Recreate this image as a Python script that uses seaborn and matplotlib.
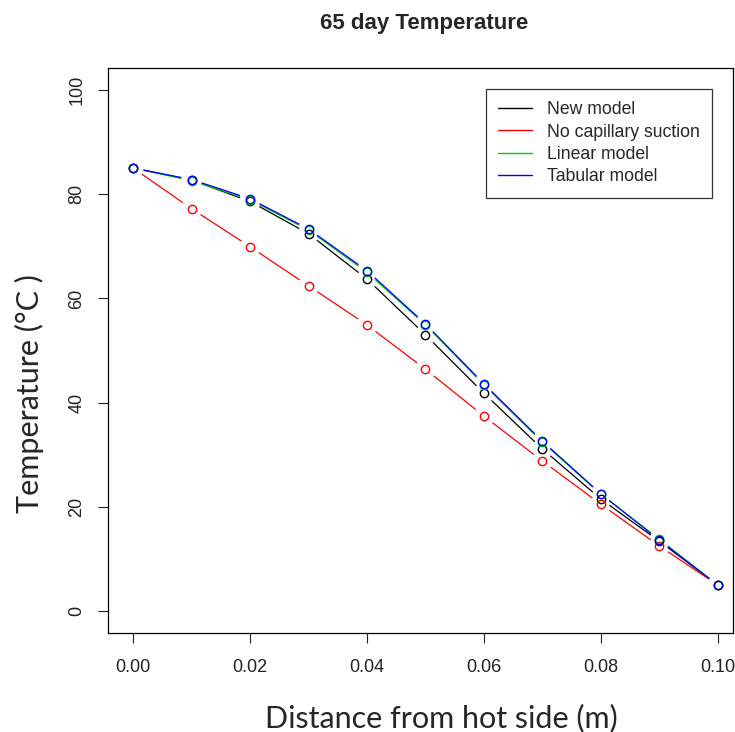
import numpy as np
import pandas as pd
import seaborn as sns
import matplotlib
matplotlib.use("Agg")
import matplotlib.pyplot as plt
from matplotlib.lines import Line2D

# data
distance = [0.00, 0.01, 0.02, 0.03, 0.04, 0.05, 0.06, 0.07, 0.08, 0.09, 0.10]
new_model = [85.0, 82.7, 78.6, 72.4, 63.7, 53.0, 41.8, 31.1, 21.5, 13.4, 5.0]
no_capillary = [85.0, 77.2, 69.9, 62.4, 54.9, 46.4, 37.4, 28.8, 20.5, 12.5, 5.0]
linear_model = [85.0, 82.6, 78.9, 73.1, 65.0, 54.9, 43.4, 32.4, 22.4, 13.8, 5.0]
tabular_model = [85.0, 82.8, 79.1, 73.3, 65.3, 55.1, 43.6, 32.6, 22.5, 13.6, 5.0]

series = ["New model", "No capillary suction", "Linear model", "Tabular model"]
values = [new_model, no_capillary, linear_model, tabular_model]
colors = ["black", "red", "#00cc00", "blue"]

sns.set_style("ticks")
plt.rcParams["font.family"] = ["Liberation Sans", "DejaVu Sans"]

fig = plt.figure(figsize=(7.35, 7.32), dpi=100)
ax = fig.add_axes([108 / 735, 1 - 633 / 732, 625 / 735, 565 / 732])
ax.set_xlim(-0.0043, 0.1026)
ax.set_ylim(-4.2, 104.2)

# R type="b": each segment stops short of the points
gap = 11  # pixels
for s, ys, c in zip(series, values, colors):
    pts = ax.transData.transform(np.column_stack([distance, ys]))
    for i in range(len(pts) - 1):
        p0, p1 = pts[i], pts[i + 1]
        d = p1 - p0
        L = np.hypot(*d)
        if L <= 2 * gap:
            continue
        u = d / L
        a = ax.transData.inverted().transform([p0 + u * gap, p1 - u * gap])
        sns.lineplot(x=a[:, 0], y=a[:, 1], color=c, linewidth=0.9,
                     estimator=None, sort=False, ax=ax)

pts_df = pd.DataFrame({
    "x": distance * 4,
    "temp": sum(values, []),
    "model": sum([[s] * len(distance) for s in series], []),
})
for s, c in zip(series, colors):
    d = pts_df[pts_df["model"] == s]
    ax.plot(d["x"], d["temp"], ls="none", marker="o", ms=6, mfc="none",
            mec=c, mew=1.0, zorder=4)

ax.set_xlim(-0.0043, 0.1026)
ax.set_ylim(-4.2, 104.2)
ax.set_xticks([0.00, 0.02, 0.04, 0.06, 0.08, 0.10])
ax.set_xticklabels(["0.00", "0.02", "0.04", "0.06", "0.08", "0.10"])
ax.set_yticks([0, 20, 40, 60, 80, 100])
ax.set_yticklabels(["0", "20", "40", "60", "80", "100"], rotation=90, va="center")
ax.tick_params(labelsize=13, length=7, width=0.8, colors="#222222")
ax.tick_params(axis="x", pad=11.5)
ax.tick_params(axis="y", pad=9.3)
for sp in ax.spines.values():
    sp.set_visible(True)
    sp.set_linewidth(0.9)
    sp.set_color("black")

ax.set_xlabel("Distance from hot side (m)", fontsize=22, family=["Lato", "DejaVu Sans"])
ax.set_ylabel("Temperature (°C )", fontsize=22, family=["Lato", "DejaVu Sans"])
ax.xaxis.label.set_va("center")
ax.xaxis.set_label_coords(0.533, -0.150)
ax.yaxis.label.set_va("center")
ax.yaxis.set_label_coords(-0.1264, 0.423)
fig.text(424 / 735, 1 - 24 / 732, "65 day Temperature", ha="center", va="center",
         fontsize=16, fontweight="bold")

handles = [Line2D([], [], color=c, lw=1.0) for c in colors]
leg = ax.legend(handles, series, loc="upper right",
                bbox_to_anchor=(604 / 625, 1 - 21 / 565),
                fontsize=12.7, frameon=True, fancybox=False, edgecolor="black",
                handlelength=1.9, borderpad=0.7, labelspacing=0.3,
                handletextpad=0.85, borderaxespad=0)
leg.get_frame().set_linewidth(0.9)

fig.savefig("out.png", dpi=100)
